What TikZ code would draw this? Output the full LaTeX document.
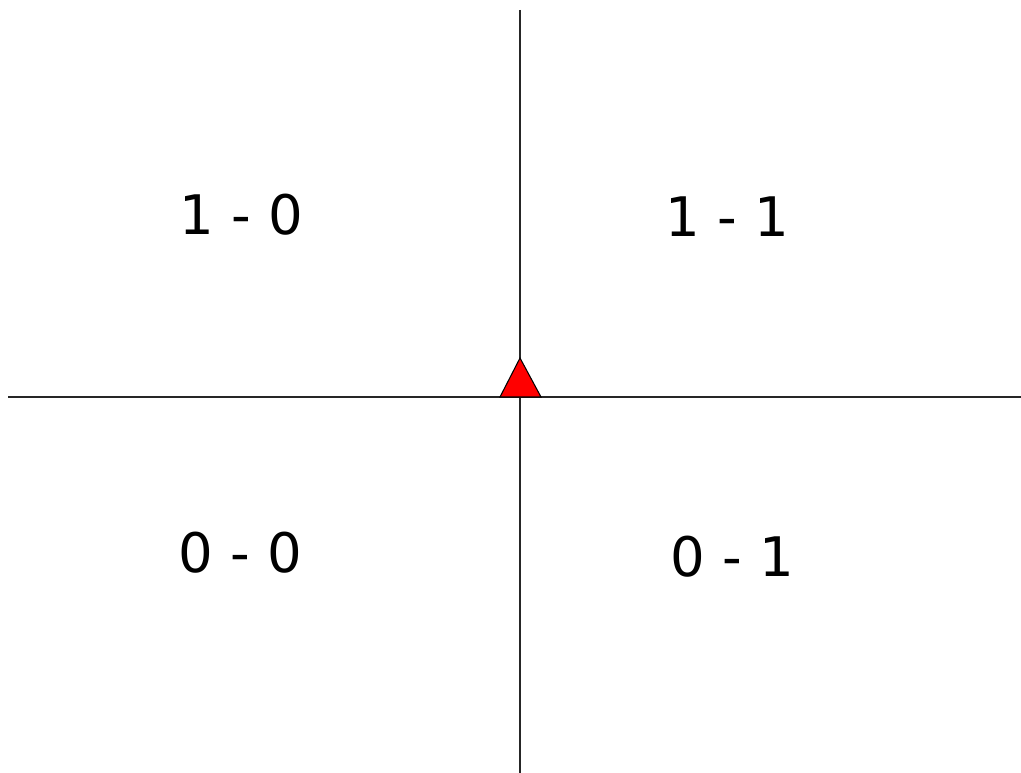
\documentclass[tikz,border=0pt]{standalone}
\usepackage{fontspec}
\setmainfont{DejaVu Sans}
\usepackage{tikz}
\usetikzlibrary{positioning, calc}

\begin{document}
\begin{tikzpicture}[
      x=0.01cm, y=-0.01cm,
      font=\fontsize{15.5}{19}\selectfont,
      score/.style={inner sep=0pt, anchor=center},
      axis/.style={line width=0.5pt, draw=black!85},
      marker/.style={draw=black, fill=red, line width=0.3pt, line join=miter}
    ]
    \useasboundingbox (0,0) rectangle (1021,773);
    %% axes
    \coordinate (top) at (520,10);
    \coordinate (bot) at (520,773);
    \coordinate (lft) at (8,397);
    \coordinate (rgt) at (1021,397);
    \draw[axis] (top) -- (bot);
    \draw[axis] (lft) -- (rgt);
    %% marker at the origin
    \coordinate (apex) at (520,358);
    \coordinate (bl) at (500,397);
    \coordinate (br) at (541,397);
    \draw[marker] (bl) -- (apex) -- (br) -- cycle;
    %% quadrant scores
    \node[score] (q10) at (241,215) {1 - 0};
    \node[score] (q11) at (727,217) {1 - 1};
    \node[score] (q00) at (240,553) {0 - 0};
    \node[score] (q01) at (732,557) {0 - 1};
  \end{tikzpicture}
\end{document}
